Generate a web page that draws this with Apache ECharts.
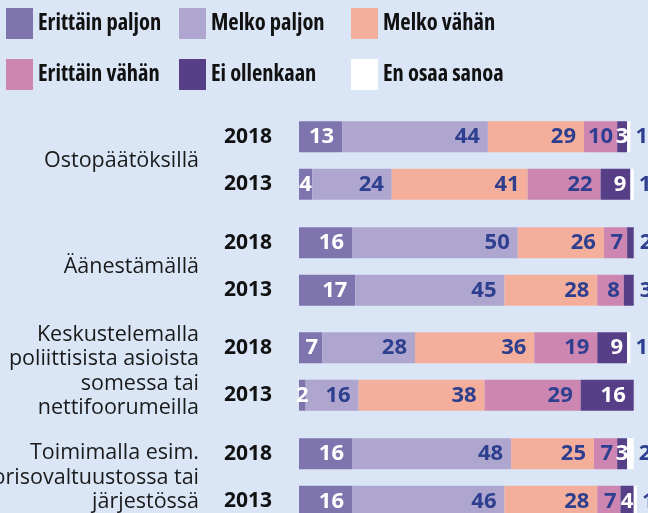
<!DOCTYPE html>
<html>
<head>
<meta charset="utf-8">
<script src="https://cdn.jsdelivr.net/npm/echarts@6/dist/echarts.min.js"></script>
<style>
  html, body { margin: 0; padding: 0; background: #dae5f6; }
  #chart { width: 648px; height: 513px; }
</style>
</head>
<body>
<div id="chart"></div>
<script>
const groups = [
  'Ostopäätöksillä',
  'Äänestämällä',
  'Keskustelemalla\npoliittisista asioista\nsomessa tai\nnettifoorumeilla',
  'Toimimalla esim.\nnuorisovaltuustossa tai\njärjestössä'
]
const years = ['2018', '2013']
// row order: group 1 2018, group 1 2013, group 2 2018, ...
const erittainPaljon = [13, 4, 16, 17, 7, 2, 16, 16]
const melkoPaljon = [44, 24, 50, 45, 28, 16, 48, 46]
const melkoVahan = [29, 41, 26, 28, 36, 38, 25, 28]
const erittainVahan = [10, 22, 7, 8, 19, 29, 7, 7]
const eiOllenkaan = [3, 9, 2, 3, 9, 16, 3, 4]
const enOsaaSanoa = [1, 1, 0, 0, 1, 0, 2, 1]

const blue = '#2d3f8e'
const seriesDefs = [
  { name: 'Erittäin paljon', data: erittainPaljon, color: '#7f75ae', labelColor: '#fff' },
  { name: 'Melko paljon', data: melkoPaljon, color: '#aea6cf', labelColor: blue },
  { name: 'Melko vähän', data: melkoVahan, color: '#f4ae9c', labelColor: blue },
  { name: 'Erittäin vähän', data: erittainVahan, color: '#cd85b1', labelColor: blue },
  { name: 'Ei ollenkaan', data: eiOllenkaan, color: '#573f87', labelColor: '#fff' },
  { name: 'En osaa sanoa', data: enOsaaSanoa, color: '#ffffff', labelColor: blue, outside: true }
]

// small last segment with nothing after it -> number goes outside the bar
function labelFor(d, v, row) {
  if (d.outside) return { position: 'right', distance: 5 }
  if (d.name === 'Ei ollenkaan' && v <= 3 && !enOsaaSanoa[row]) {
    return { position: 'right', distance: 6, color: blue }
  }
  if (v < 5) return { position: 'inside' }
  return { position: 'insideRight', distance: v >= 12 ? 8 : 4 }
}

const gridTops = [113, 219, 324, 430]
const grids = []
const xAxes = []
const yAxes = []
const series = []

gridTops.forEach((top, g) => {
  grids.push({ left: 299, right: 1, top: top, height: 95, outerBoundsMode: 'none', containLabel: false })
  xAxes.push({ type: 'value', gridIndex: g, min: 0, max: 105, show: false })
  yAxes.push({
    type: 'category',
    gridIndex: g,
    data: years,
    inverse: true,
    axisLine: { show: false },
    axisTick: { show: false },
    axisLabel: { margin: 27, fontFamily: 'Open Sans', fontWeight: 'bold', fontSize: 21, color: '#111' }
  })
  yAxes.push({
    type: 'category',
    gridIndex: g,
    data: [groups[g]],
    position: 'left',
    offset: 92,
    axisLine: { show: false },
    axisTick: { show: false },
    axisLabel: { margin: 8, fontFamily: 'Open Sans', fontSize: 21.5, lineHeight: 24.5, color: '#1a1a1a', align: 'right' }
  })
  seriesDefs.forEach(d => {
    series.push({
      name: d.name,
      type: 'bar',
      stack: 'g' + g,
      xAxisIndex: g,
      yAxisIndex: g * 2,
      barWidth: 31,
      data: d.data.slice(g * 2, g * 2 + 2).map((v, k) => ({
        value: v,
        label: labelFor(d, v, g * 2 + k)
      })),
      itemStyle: { color: d.color },
      label: {
        show: true,
        color: d.labelColor,
        fontFamily: 'Open Sans',
        fontWeight: 'bold',
        fontSize: 22,
        formatter: p => (p.value ? String(p.value) : '')
      }
    })
  })
})

const legendText = {
  fontFamily: 'Open Sans',
  fontWeight: 'bold condensed',
  fontSize: 22.5,
  color: '#111'
}
const legendPos = [[6, 8], [179, 8], [351, 8], [6, 59], [179, 59], [351, 59]]
const legends = seriesDefs.map((d, i) => ({
  data: [d.name],
  left: legendPos[i][0],
  top: legendPos[i][1],
  padding: 0,
  icon: 'rect',
  itemWidth: 27,
  itemHeight: 31,
  textStyle: legendText
}))

const chart = echarts.init(document.getElementById('chart'))
chart.setOption({
  backgroundColor: '#dae5f6',
  animation: false,
  legend: legends,
  grid: grids,
  xAxis: xAxes,
  yAxis: yAxes,
  series: series
})
</script>
</body>
</html>
